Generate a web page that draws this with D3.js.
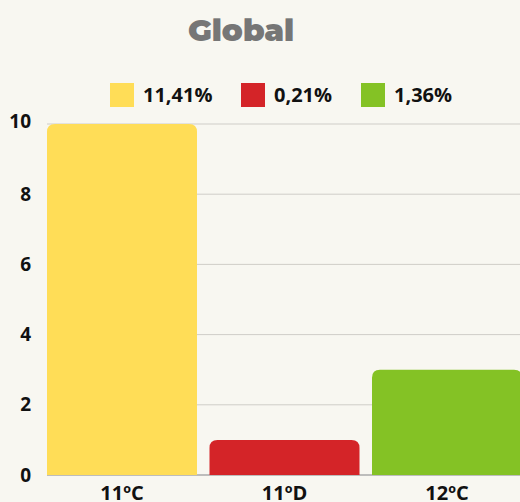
<!DOCTYPE html>
<html><head><meta charset="utf-8">
<script src="https://cdn.jsdelivr.net/npm/d3@7"></script>
<style>html,body{margin:0;padding:0;background:#f8f7f1;overflow:hidden}</style>
</head><body>
<svg id="c" width="520" height="502"></svg>
<script>
const categories = ["11ºC", "11ºD", "12ºC"];
const values = [10, 1, 3];
const legendLabels = ["11,41%", "0,21%", "1,36%"];
const colors = ["#ffdd57", "#d42428", "#84c225"];
const yTicks = [0, 2, 4, 6, 8, 10];
const title = "Global";

const svg = d3.select("#c");
svg.append("rect").attr("width", 520).attr("height", 502).attr("fill", "#f8f7f1");

const x = d3.scaleBand().domain(categories).range([40.75, 528.25]).paddingInner(12.5/162.5).paddingOuter(12.5/162.5/2);
const y = d3.scaleLinear().domain([0, 10]).range([475, 124]);

svg.append("text").attr("x", 241).attr("y", 41).attr("text-anchor", "middle")
  .attr("font-family", "Montserrat, 'Noto Sans', sans-serif").attr("font-weight", 900)
  .attr("font-size", 31).attr("fill", "#767676").text(title);

// gridlines
svg.append("g").selectAll("line").data(yTicks.filter(d => d > 0)).join("line")
  .attr("x1", 47).attr("x2", 520).attr("y1", d => y(d)).attr("y2", d => y(d))
  .attr("stroke", "#cfcdc8").attr("stroke-width", 1);
svg.append("line").attr("x1", 47).attr("x2", 520).attr("y1", y(0)).attr("y2", y(0))
  .attr("stroke", "#aaaaaa").attr("stroke-width", 1.5);

// y labels
svg.append("g").selectAll("text").data(yTicks).join("text")
  .attr("x", 31).attr("y", d => y(d)).attr("dy", d => d === 10 ? "0.2em" : "0.35em")
  .attr("text-anchor", "end").attr("font-family", "'Open Sans', sans-serif")
  .attr("font-weight", 700).attr("font-size", 19).attr("fill", "#111").text(d => d);

// bars with rounded tops
const r = 8;
function barPath(x0, w, yTop, yBot) {
  return `M${x0},${yBot}V${yTop + r}Q${x0},${yTop} ${x0 + r},${yTop}H${x0 + w - r}Q${x0 + w},${yTop} ${x0 + w},${yTop + r}V${yBot}Z`;
}
svg.append("g").selectAll("path").data(categories).join("path")
  .attr("d", (c, i) => barPath(x(c), x.bandwidth(), y(values[i]), y(0)))
  .attr("fill", (c, i) => colors[i]);

// x labels
svg.append("g").selectAll("text").data(categories).join("text")
  .attr("x", c => x(c) + x.bandwidth() / 2).attr("y", 500).attr("text-anchor", "middle")
  .attr("font-family", "'Open Sans', sans-serif").attr("font-weight", 700)
  .attr("font-size", 20).attr("fill", "#111").text(c => c);

// legend
const lx = [110, 241, 361];
const lg = svg.append("g").selectAll("g").data(legendLabels).join("g")
  .attr("transform", (d, i) => `translate(${lx[i]},83)`);
lg.append("rect").attr("width", 24).attr("height", 24).attr("fill", (d, i) => colors[i]);
lg.append("text").attr("x", 33).attr("y", 12).attr("dy", "0.36em")
  .attr("font-family", "'Open Sans', sans-serif").attr("font-weight", 700)
  .attr("font-size", 20).attr("fill", "#111").text(d => d);
</script>
</body></html>
